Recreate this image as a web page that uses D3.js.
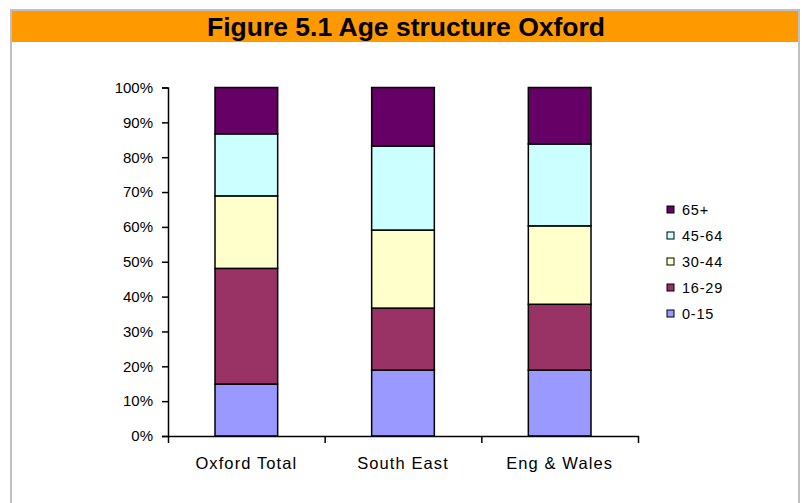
<!DOCTYPE html>
<html><head><meta charset="utf-8">
<script src="https://cdn.jsdelivr.net/npm/d3@7"></script>
<style>
html,body{margin:0;padding:0;background:#fff;}
svg{display:block;}
text{font-family:"Liberation Sans",Arial,sans-serif;fill:#000;}
</style></head>
<body>
<svg id="chart" width="802" height="503"></svg>
<script>
const title = "Figure 5.1 Age structure Oxford";
const categories = ["Oxford Total", "South East", "Eng & Wales"];
const seriesNames = ["0-15", "16-29", "30-44", "45-64", "65+"];
const v0_15  = [14.9, 18.9, 18.9];
const v16_29 = [33.2, 17.8, 18.9];
const v30_44 = [20.8, 22.4, 22.5];
const v45_64 = [17.8, 24.1, 23.5];
const v65p   = [13.3, 16.8, 16.2];
const seriesColors = ["#9999FF", "#993366", "#FFFFCC", "#CCFFFF", "#660066"];
const yTicks = [0,10,20,30,40,50,60,70,80,90,100];

const values = [v0_15, v16_29, v30_44, v45_64, v65p];
const table = categories.map((c,i)=>{
  const row = {cat:c};
  seriesNames.forEach((s,j)=>row[s]=values[j][i]);
  return row;
});

const svg = d3.select("#chart");

// frame
svg.append("rect").attr("x",11).attr("y",10).attr("width",788).attr("height",510)
  .attr("fill","#fff").attr("stroke","#c0c0c0").attr("stroke-width",2);
// title band
svg.append("rect").attr("x",12).attr("y",11).attr("width",786).attr("height",31).attr("fill","#FF9900");
svg.append("text").attr("x",406).attr("y",36).attr("text-anchor","middle")
  .attr("font-size",26.5).attr("font-weight","bold").text(title);

const x0 = 168, x1 = 638, yTop = 87.5, yBot = 436;
const x = d3.scaleBand().domain(categories).range([x0,x1]).paddingInner(0.6).paddingOuter(0.3);
const y = d3.scaleLinear().domain([0,100]).range([yBot,yTop]);

const stack = d3.stack().keys(seriesNames);
const stacked = stack(table);

const g = svg.append("g");
g.selectAll("g.series").data(stacked).join("g")
  .attr("fill",(d,i)=>seriesColors[i])
  .selectAll("rect").data(d=>d).join("rect")
  .attr("x",d=>x(d.data.cat))
  .attr("width",x.bandwidth())
  .attr("y",d=>y(d[1]))
  .attr("height",d=>y(d[0])-y(d[1]))
  .attr("stroke","#000").attr("stroke-width",1.5);

// y axis
const yAxis = d3.axisLeft(y).tickValues(yTicks).tickFormat(d=>d+"%").tickSize(6).tickPadding(9);
const ya = svg.append("g").attr("transform",`translate(${x0},0)`).call(yAxis);
ya.select(".domain").attr("stroke","#000").attr("stroke-width",1.5);
ya.selectAll(".tick line").attr("stroke","#000").attr("stroke-width",1.5);
ya.selectAll(".tick text").attr("font-size",15).attr("font-family","Liberation Sans, Arial, sans-serif").attr("fill","#000");

// x axis
const xb = d3.scaleLinear().domain([0,categories.length]).range([x0,x1]);
const xa = svg.append("g").attr("transform",`translate(0,${yBot})`)
  .call(d3.axisBottom(xb).tickValues(d3.range(categories.length+1)).tickFormat("").tickSize(7).tickSizeOuter(0));
xa.select(".domain").attr("stroke","#000").attr("stroke-width",1.5);
xa.selectAll(".tick line").attr("stroke","#000").attr("stroke-width",1.5);
svg.append("g").selectAll("text").data(categories).join("text")
  .attr("x",d=>x(d)+x.bandwidth()/2).attr("y",yBot+33)
  .attr("text-anchor","middle").attr("font-size",16.5).attr("letter-spacing",1.1)
  .text(d=>d);

// legend
const legendItems = seriesNames.map((s,i)=>({name:s,color:seriesColors[i]})).reverse();
const lg = svg.append("g").selectAll("g").data(legendItems).join("g")
  .attr("transform",(d,i)=>`translate(667,${206+i*26})`);
lg.append("rect").attr("width",7).attr("height",7).attr("fill",d=>d.color)
  .attr("stroke","#000").attr("stroke-width",1);
lg.append("text").attr("x",15).attr("y",9).attr("font-size",14.5).attr("letter-spacing",0.8).text(d=>d.name);
</script>
</body></html>
